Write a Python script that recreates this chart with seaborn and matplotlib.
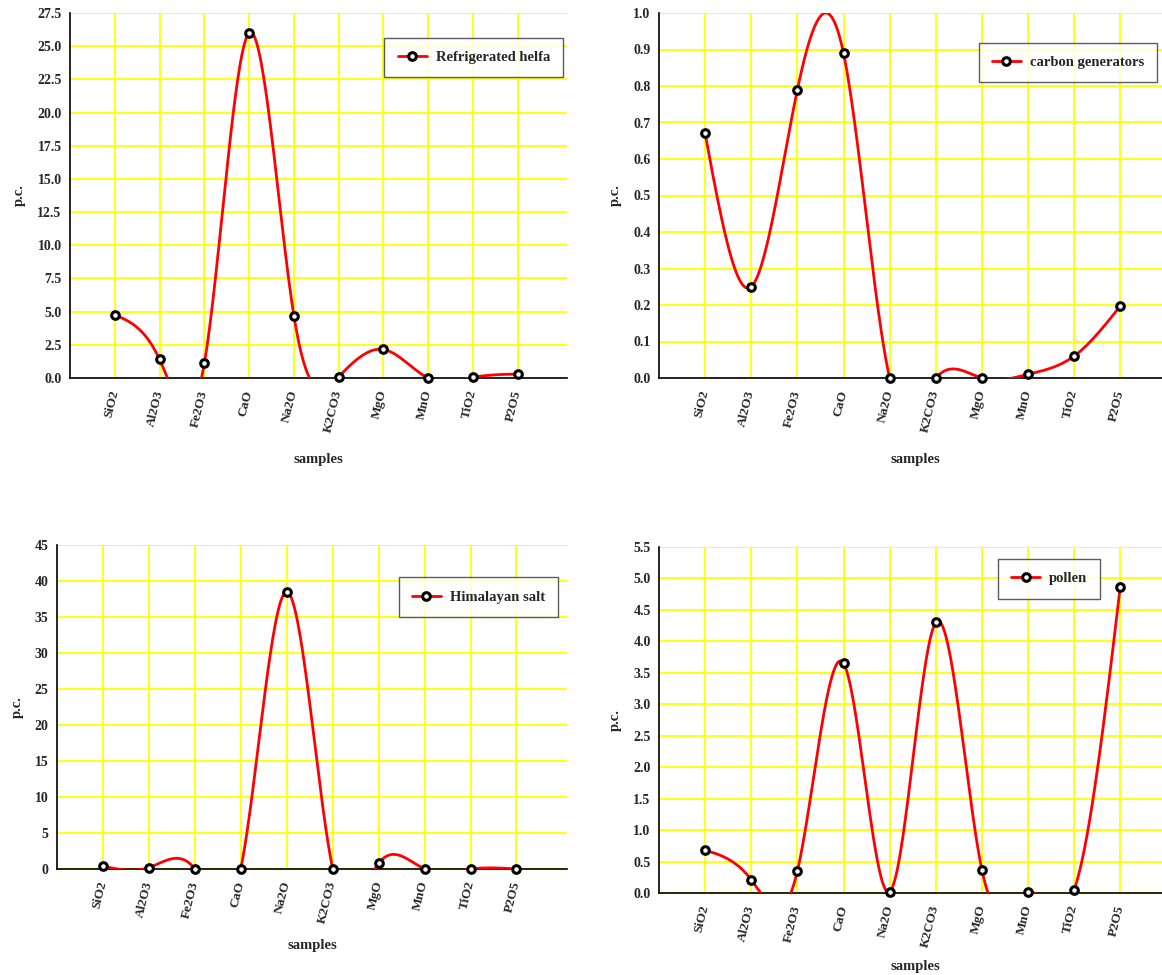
import numpy as np
import pandas as pd
import matplotlib
matplotlib.use("Agg")
import matplotlib.pyplot as plt
from matplotlib.lines import Line2D
from matplotlib.ticker import FormatStrFormatter
import seaborn as sns

# datos de cada muestra (p.c.)
oxides = ["SiO2", "Al2O3", "Fe2O3", "CaO", "Na2O", "K2CO3", "MgO", "MnO", "TiO2", "P2O5"]
helfa = [4.75, 1.4, 1.1, 26.0, 4.7, 0.1, 2.15, 0.0, 0.05, 0.3]
carbon = [0.67, 0.25, 0.79, 0.89, 0.0, 0.0, 0.0, 0.01, 0.06, 0.197]
salt = [0.4, 0.2, 0.0, 0.05, 38.5, 0.05, 0.8, 0.0, 0.0, 0.0]
pollen = [0.68, 0.21, 0.35, 3.65, 0.02, 4.3, 0.37, 0.02, 0.05, 4.87]

sns.set_style("white")
plt.rcParams["font.family"] = ["Liberation Serif", "DejaVu Serif"]
plt.rcParams["font.weight"] = "bold"


def natural_spline(y, n=60):
    # spline cubico natural sobre x = 0..N-1
    y = np.asarray(y, dtype=float)
    N = len(y)
    A = np.zeros((N, N))
    r = np.zeros(N)
    A[0, 0] = A[-1, -1] = 1
    for i in range(1, N - 1):
        A[i, i - 1], A[i, i], A[i, i + 1] = 1, 4, 1
        r[i] = 6 * (y[i + 1] - 2 * y[i] + y[i - 1])
    M = np.linalg.solve(A, r)
    xs, ys = [], []
    for i in range(N - 1):
        t = np.linspace(i, i + 1, n)
        a = (i + 1) - t
        b = t - i
        s = M[i] * a**3 / 6 + M[i + 1] * b**3 / 6 + (y[i] - M[i] / 6) * a + (y[i + 1] - M[i + 1] / 6) * b
        xs.append(t)
        ys.append(s)
    return np.concatenate(xs), np.concatenate(ys)


W, H = 1162, 975
fig = plt.figure(figsize=(W / 100, H / 100), dpi=100)

panels = [
    (helfa, "Refrigerated helfa", [70, 13, 567, 378], 27.5, 2.5, "%.1f", (0.992, 0.932), 14),
    (carbon, "carbon generators", [659, 13, 1171, 378], 1.0, 0.1, "%.1f", (0.973, 0.918), 14),
    (salt, "Himalayan salt", [57, 545, 567, 869], 45, 5, "%d", (0.982, 0.90), 10),
    (pollen, "pollen", [659, 547, 1171, 893], 5.5, 0.5, "%.1f", (0.862, 0.965), 8),
]

for vals, name, (l, t, r, b), ymax, step, fmt, leg, xpad in panels:
    ax = fig.add_axes([l / W, 1 - b / H, (r - l) / W, (b - t) / H])
    pos = np.arange(len(oxides))
    xs, ys = natural_spline(vals)
    df = pd.DataFrame({"x": xs, "y": ys})
    sns.lineplot(data=df, x="x", y="y", color="red", lw=2.0, sort=False, ax=ax, zorder=3)
    ax.plot(pos, vals, ls="none", marker="o", ms=5.5, mfc="white", mec="black", mew=2.2,
            clip_on=False, zorder=4)

    ax.set_xlim(-1, 10.1)
    ax.set_ylim(0, ymax)
    ax.set_yticks(np.arange(0, ymax + step / 2, step))
    ax.yaxis.set_major_formatter(FormatStrFormatter(fmt))
    ax.set_xticks(pos)
    ax.set_xticklabels(oxides, rotation=76, ha="right", va="center", rotation_mode="anchor")
    ax.tick_params(axis="x", labelsize=9.5, length=4, pad=5, color="#808080")
    ax.tick_params(axis="y", labelsize=10, length=3, pad=3)
    for lab in ax.get_xticklabels() + ax.get_yticklabels():
        lab.set_fontweight("bold")

    ax.grid(True, color="#FFFF00", lw=1.3)
    ax.set_axisbelow(True)
    for s in ["top", "right"]:
        ax.spines[s].set_visible(False)
    for s in ["left", "bottom"]:
        ax.spines[s].set_color("black")
        ax.spines[s].set_linewidth(1.2)

    ax.set_xlabel("samples", fontsize=10.5, fontweight="bold", labelpad=xpad)
    ax.set_ylabel("p.c.", fontsize=10.5, fontweight="bold", labelpad=8)

    h = Line2D([0], [0], color="red", lw=2.0, marker="o", ms=5.5, mfc="white", mec="black", mew=2.2)
    lg = ax.legend(handles=[h], labels=[name], loc="upper right", bbox_to_anchor=leg,
                   borderaxespad=0, frameon=True, fancybox=False, handlelength=2.0,
                   handletextpad=0.6, borderpad=0.9, prop={"size": 10.5, "weight": "bold"})
    lg.get_frame().set_edgecolor("#333333")
    lg.get_frame().set_linewidth(1.0)

fig.savefig("out.png", dpi=100)
